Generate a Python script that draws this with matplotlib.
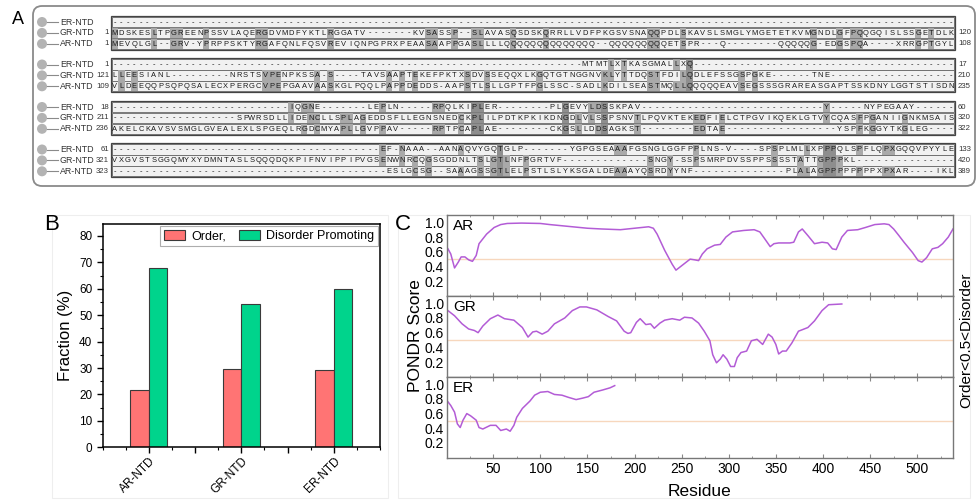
import matplotlib
matplotlib.use("Agg")
import matplotlib.pyplot as plt
from matplotlib.patches import Rectangle, FancyBboxPatch, Circle
from matplotlib.ticker import MultipleLocator
import numpy as np

W, H = 978, 503
plt.rcParams['font.family'] = ['Liberation Sans', 'DejaVu Sans']

# ---------------- Panel A data: alignment ----------------
seq_names = ['ER-NTD', 'GR-NTD', 'AR-NTD']
N_COLS = 129
ER1 = "-" * 129
GR1 = "MDSKESLTPGREENPSSVLAQERGDVMDFYKTLRGGATV-------KVSASSP--SLAVASQSDSKQRRLLVDFPKGSVSNAQQPDLSKAVSLSMGLYMGETETKVMGNDLGFPQQGQISLSSGETDLK"
AR1 = ("MEVQLGL--GRV-YPRPPSKTYRGAFQNLFQSVREVIQNPGPRXPEAASAAPPGASLLLL" + "QQQQQQQQQQQQQQ" + "--" + "QQQQQQQQ"
       + "QETSPR---Q--------QQQQQG-EDGSPQA----XRRGPTGYL")
ER2 = "-" * 72 + "MTMTLXTKASGMALLXQ" + "-" * 40
GR2 = ("LLEESIANL" + "-" * 9 + "NRSTSVPENPKSSA" + "-S" + "----"
       + "TAVSAAPTEKEFPKTXSDVSSEQQXLKGQTGTNGGNVKLYTTDQSTFDILQDLEFSSGSPGKE" + "-" * 6 + "TNE" + "-" * 19)
AR2 = "VLDEEQQPSQPQSALECXPERGCVPEPGAAVAASKGLPQQLPAPPDEDDS-AAPSTLSLLGPTFPGLSSC-SADLKDILSEASTMQLLQQQQQEAVSEGSSSGRAREASGAPTSSKDNYLGGTSTISDN"
ER3 = ("-" * 27 + "IQGNE" + "-" * 7 + "LEPLN" + "-" * 5 + "RPQLKIPLER" + "-" * 8 + "PLGEVYLDSSKPAV"
       + "-" * 28 + "Y" + "-" * 5 + "NYPEGAAY" + "-" * 6)
GR3 = "-" * 19 + "SPWRSDLLIDENCLLSPLAGEDDSFLLEGNSNEDCKPLILPDTKPKIKDNGDLVLSSPSNVTLPQVKTEKEDFIELCTPGVIKQEKLGTVYCQASFPGANIIGNKMSAIS"
AR3 = ("AKELCKAVSVSMGLGVEALEXLSPGEQLRGDCMYAPLLGVPPAV" + "-" * 5 + "RPTPCAPLAE" + "-" * 8 + "CKGSLLDDSAGKST"
       + "-" * 8 + "EDTAE" + "-" * 17 + "YSPFKGGYTKGLEG" + "-" * 4)
ER4 = "-" * 41 + "EF-NAAA--AANAQVYGQTGLP" + "-" * 7 + "YGPGSEAAAFGSNGLGGFPPLNS-V----SPSPLMLLXPPPQLSPFLQPXGQQVPYYLE"
GR4 = "VXGVSTSGGQMYXYDMNTASLSQQQDQKPIFNVIPPIPVGSENWNRCQGSGDDNLTSLGTLNFPGRTVF" + "-" * 13 + "SNGY-SSPSMRPDVSSPPSSSSTATTGPPPKL" + "-" * 15
AR4 = "-" * 42 + "ESLGCSG--SAAAGSSGTLELPSTLSLYKSGALDEAAAYQSRDYYNF" + "-" * 14 + "PLALAGPPPPPPPPXPXAR----IKL"
blocks = [[ER1, GR1, AR1], [ER2, GR2, AR2], [ER3, GR3, AR3], [ER4, GR4, AR4]]
start_nums = [["", "1", "1"], ["1", "121", "109"], ["18", "211", "236"], ["61", "321", "323"]]
end_nums = [["", "120", "108"], ["17", "210", "235"], ["60", "320", "322"], ["133", "420", "389"]]

# ---------------- Panel B data ----------------
categories = ['AR-NTD', 'GR-NTD', 'ER-NTD']
order_frac = [21.5, 29.8, 29.3]
disorder_frac = [67.7, 54.1, 60.0]

# ---------------- Panel C data (PONDR scores) ----------------
ar_res = [2, 5, 9, 13, 16, 20, 24, 28, 32, 35, 43, 51, 58, 65, 80, 100, 110, 130, 150, 165, 185, 200, 215,
          220, 224, 232, 240, 244, 249, 255, 259, 264, 268, 272, 277, 285, 291, 297, 304, 316, 327, 333, 338,
          344, 348, 353, 365, 369, 374, 378, 384, 391, 399, 405, 410, 414, 420, 426, 437, 445, 455, 465, 470,
          475, 480, 486, 495, 501, 505, 510, 516, 522, 527, 533, 538]
ar_val = [0.64, 0.57, 0.38, 0.46, 0.53, 0.53, 0.49, 0.47, 0.55, 0.71, 0.84, 0.93, 0.97, 0.985, 0.99, 0.985, 0.97,
          0.945, 0.92, 0.91, 0.90, 0.92, 0.94, 0.92, 0.84, 0.62, 0.43, 0.35, 0.40, 0.46, 0.50, 0.49, 0.48, 0.57,
          0.64, 0.69, 0.70, 0.80, 0.87, 0.89, 0.90, 0.87, 0.78, 0.67, 0.71, 0.72, 0.72, 0.73, 0.87, 0.91, 0.82,
          0.71, 0.73, 0.72, 0.64, 0.63, 0.80, 0.89, 0.90, 0.93, 0.97, 0.98, 0.97, 0.91, 0.83, 0.73, 0.59, 0.48,
          0.46, 0.52, 0.64, 0.66, 0.71, 0.80, 0.91]
gr_res = [2, 9, 17, 24, 30, 34, 39, 47, 55, 62, 72, 81, 87, 92, 96, 102, 108, 115, 126, 134, 142, 149, 160,
          172, 181, 189, 193, 196, 202, 206, 212, 217, 221, 227, 232, 240, 248, 253, 261, 268, 274, 280, 283,
          287, 291, 294, 298, 302, 306, 309, 313, 319, 324, 330, 336, 342, 346, 350, 353, 357, 361, 367, 374,
          384, 391, 399, 406, 420]
gr_val = [0.90, 0.83, 0.72, 0.65, 0.63, 0.60, 0.69, 0.79, 0.84, 0.79, 0.77, 0.67, 0.54, 0.61, 0.62, 0.58, 0.62,
          0.72, 0.80, 0.90, 0.95, 0.95, 0.91, 0.82, 0.76, 0.62, 0.59, 0.60, 0.74, 0.79, 0.71, 0.72, 0.66, 0.73,
          0.77, 0.79, 0.77, 0.81, 0.80, 0.73, 0.62, 0.49, 0.30, 0.19, 0.24, 0.30, 0.24, 0.14, 0.14, 0.26, 0.33,
          0.35, 0.49, 0.51, 0.44, 0.58, 0.54, 0.44, 0.31, 0.35, 0.35, 0.46, 0.62, 0.67, 0.76, 0.90, 0.98, 0.99]
er_res = [2, 5, 9, 12, 15, 18, 22, 26, 32, 35, 39, 47, 53, 58, 64, 68, 72, 75, 81, 89, 94, 100, 108, 115, 123,
          130, 138, 145, 151, 157, 166, 174, 179]
er_val = [0.76, 0.71, 0.62, 0.46, 0.41, 0.51, 0.60, 0.57, 0.51, 0.41, 0.39, 0.44, 0.44, 0.37, 0.39, 0.36, 0.44,
          0.55, 0.67, 0.77, 0.85, 0.89, 0.90, 0.86, 0.85, 0.82, 0.79, 0.81, 0.83, 0.89, 0.92, 0.95, 0.98]
panel_names = ['AR', 'GR', 'ER']

fig = plt.figure(figsize=(W / 100, H / 100), dpi=100)


def fbox(x0, y0, x1, y1):
    return [x0 / W, 1 - y1 / H, (x1 - x0) / W, (y1 - y0) / H]


# ---------------- Panel A ----------------
axA = fig.add_axes([0, 0, 1, 1])
axA.set_xlim(0, W)
axA.set_ylim(H, 0)
axA.axis('off')
axA.add_patch(FancyBboxPatch((33, 6), 942, 180, boxstyle="round,pad=0,rounding_size=9",
                             fc='white', ec='#8a8a8a', lw=1.3))
axA.text(18, 19, 'A', fontsize=13, ha='center', va='center')

x0, x1 = 111.5, 954.0
cw = (x1 - x0) / N_COLS
row_h = 10.2
for b, rows in enumerate(blocks):
    ys = [22 + 42.5 * b + 10.9 * r for r in range(3)]
    axA.add_patch(Rectangle((x0 - 1, ys[0] - row_h / 2 - 1), x1 - x0 + 2, ys[2] - ys[0] + row_h + 2,
                            fc='none', ec='#444', lw=0.9, zorder=4))
    for r in range(3):
        y = ys[r]
        axA.add_patch(Rectangle((x0, y - row_h / 2), x1 - x0, row_h, fc='#f1f1f1', ec='#666', lw=0.6, zorder=1))
        axA.add_patch(Circle((42, y), 5.0, fc='#b3b3b3', ec='none', zorder=2))
        axA.plot([47, 58], [y, y], color='#8a8a8a', lw=0.8)
        axA.text(60, y, seq_names[r], fontsize=6.4, ha='left', va='center', color='#333')
        if start_nums[b][r]:
            axA.text(109, y, start_nums[b][r], fontsize=5.6, ha='right', va='center', color='#333')
        if end_nums[b][r]:
            axA.text(958, y, end_nums[b][r], fontsize=5.6, ha='left', va='center', color='#333')
        seq = rows[r]
        for c, ch in enumerate(seq):
            xc = x0 + (c + 0.5) * cw
            if ch != '-':
                n_same = sum(1 for rr in range(3) if rows[rr][c] == ch)
                if n_same >= 2:
                    col = '#8e8e8e' if n_same == 3 else '#a9a9a9'
                    axA.add_patch(Rectangle((xc - cw / 2, y - row_h / 2), cw, row_h, fc=col, ec='none', zorder=2))
            axA.text(xc, y + 0.3, ch, fontsize=5.4, ha='center', va='center', color='#1a1a1a', zorder=3)

# faint panel frames for B and C
axA.add_patch(Rectangle((52, 215), 336, 283, fc='none', ec='#eeeeee', lw=0.8))
axA.add_patch(Rectangle((398, 215), 572, 283, fc='none', ec='#eeeeee', lw=0.8))
axA.text(52, 224, 'B', fontsize=16, ha='center', va='center')
axA.text(403, 224, 'C', fontsize=16, ha='center', va='center')

# ---------------- Panel B ----------------
axB = fig.add_axes(fbox(102.7, 224, 380, 447.3))
xpos = np.arange(1, len(categories) + 1)
axB.bar(xpos - 0.1, order_frac, 0.2, color='#ff7474', edgecolor='#3a3a3a', lw=0.8, label='Order,')
axB.bar(xpos + 0.1, disorder_frac, 0.2, color='#00d48c', edgecolor='#3a3a3a', lw=0.8, label='Disorder Promoting')
axB.set_xlim(0.5, 3.5)
axB.set_ylim(0, 84.5)
axB.set_xticks([1, 1.5, 2, 2.5, 3])
axB.set_xticklabels([categories[0], '', categories[1], '', categories[2]], rotation=45, ha='right',
                    rotation_mode='anchor', fontsize=8.5)
axB.xaxis.set_minor_locator(MultipleLocator(0.25))
axB.set_yticks(range(0, 81, 10))
axB.yaxis.set_minor_locator(MultipleLocator(5))
axB.tick_params(axis='both', which='major', direction='out', length=4, width=1, labelsize=8.5)
axB.tick_params(axis='both', which='minor', direction='out', length=2, width=0.8)
axB.tick_params(axis='x', which='major', pad=2)
for s in axB.spines.values():
    s.set_linewidth(1.1)
axB.set_ylabel('Fraction (%)', fontsize=12, labelpad=4)
leg = axB.legend(loc='upper right', ncol=2, fontsize=9, frameon=True, fancybox=False, borderaxespad=0.15,
                 handlelength=1.7, handleheight=0.9, columnspacing=1.0, handletextpad=0.5, borderpad=0.3)
leg.get_frame().set_edgecolor('#999')
leg.get_frame().set_linewidth(0.8)

# ---------------- Panel C ----------------
c_left, c_right, c_top, c_bot = 447, 953, 215, 457.7
ph = (c_bot - c_top) / 3
series = [(ar_res, ar_val), (gr_res, gr_val), (er_res, er_val)]
for i, (rx, vy) in enumerate(series):
    ax = fig.add_axes(fbox(c_left, c_top + i * ph, c_right, c_top + (i + 1) * ph))
    ax.plot(rx, vy, color='#b35cd6', lw=1.1)
    ax.axhline(0.5, color='#f7d7bd', lw=1.0, zorder=0)
    ax.set_xlim(1, 538)
    ax.set_ylim(0, 1.1)
    ax.set_yticks([0.2, 0.4, 0.6, 0.8, 1.0])
    ax.set_yticklabels(['0.2', '0.4', '0.6', '0.8', '1.0'])
    ax.xaxis.set_major_locator(MultipleLocator(50))
    ax.xaxis.set_minor_locator(MultipleLocator(25))
    ax.tick_params(axis='y', direction='in', length=0, labelsize=10, pad=2)
    ax.tick_params(axis='x', which='both', direction='in', top=True, bottom=True, length=3, color='#888')
    ax.tick_params(axis='x', which='minor', length=1.5)
    if i < 2:
        ax.tick_params(axis='x', labelbottom=False)
    else:
        ax.tick_params(axis='x', labelsize=10, pad=3)
    for s in ax.spines.values():
        s.set_color('#777')
        s.set_linewidth(1.0)
    ax.text(0.012, 0.95, panel_names[i], transform=ax.transAxes, fontsize=11, ha='left', va='top')

fig.text(416 / W, 1 - 336 / H, 'PONDR Score', rotation=90, fontsize=12.5, ha='center', va='center')
fig.text(700 / W, 1 - 491 / H, 'Residue', fontsize=12.5, ha='center', va='center')
fig.text(966 / W, 1 - 340 / H, 'Order<0.5<Disorder', rotation=90, fontsize=11, ha='center', va='center')

fig.savefig('out.png', dpi=100)
